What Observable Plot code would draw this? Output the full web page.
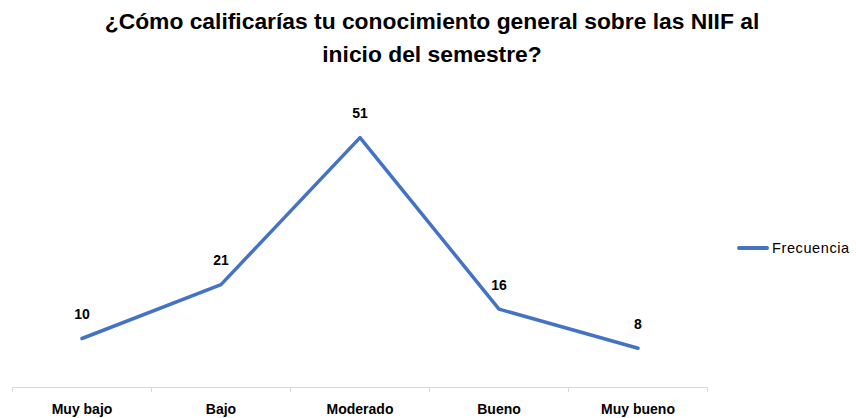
<!DOCTYPE html>
<html><head><meta charset="utf-8">
<script src="https://cdn.jsdelivr.net/npm/d3@7"></script>
<script src="https://cdn.jsdelivr.net/npm/@observablehq/plot@0.6"></script>
<style>
body{margin:0;background:#fff;width:856px;height:418px;overflow:hidden;position:relative;font-family:"Liberation Sans",Arial,sans-serif;}
#title{height:80px;box-sizing:border-box;padding-top:5px;text-align:center;font-weight:bold;font-size:21px;line-height:33px;color:#000;padding-left:8px;}
#legend{position:absolute;left:737px;top:240px;display:flex;align-items:center;font-size:14.5px;letter-spacing:0.6px;color:#000;}
#legend span.sw{display:inline-block;width:32px;height:3.5px;background:#4472C4;margin-right:3px;border-radius:2px;}
</style></head><body>
<div id="title"><span id="t1">¿Cómo calificarías tu conocimiento general sobre las NIIF al</span><br>inicio del semestre?</div>
<div id="chart"></div>
<div id="legend"><span class="sw"></span><span>Frecuencia</span></div>
<script>
const categories = ["Muy bajo", "Bajo", "Moderado", "Bueno", "Muy bueno"];
const frecuencia = [10, 21, 51, 16, 8];
const seriesName = "Frecuencia";

// fit title line width to the reference (~655px)
(function(){
  const t = document.getElementById("title");
  const w = document.getElementById("t1").getBoundingClientRect().width;
  if (w > 0) t.style.fontSize = (21 * 655 / w).toFixed(2) + "px";
})();

const data = categories.map((c, i) => ({i, categoria: c, valor: frecuencia[i]}));
const bounds = d3.range(categories.length + 1).map(k => k - 0.5);
const font = '"Liberation Sans",Arial,sans-serif';

const plot = Plot.plot({
  width: 856,
  height: 338,
  marginLeft: 12,
  marginRight: 149,
  marginTop: 13,
  marginBottom: 31,
  style: {fontFamily: font, background: "white", overflow: "visible"},
  x: {domain: [-0.5, categories.length - 0.5], axis: null},
  y: {domain: [0, 60], axis: null},
  marks: [
    Plot.ruleY([0], {stroke: "#d9d9d9", strokeWidth: 1}),
    Plot.ruleX(bounds, {y1: 0, y2: 0, insetBottom: -5, stroke: "#d9d9d9", strokeWidth: 1}),
    Plot.line(data, {x: "i", y: "valor", stroke: "#4472C4", strokeWidth: 3.5, strokeLinejoin: "round", strokeLinecap: "round"}),
    Plot.text(data, {x: "i", y: "valor", text: d => String(d.valor), dy: -24, fontWeight: "bold", fontSize: 14, fill: "#000"}),
    Plot.text(data, {x: "i", y: 0, text: "categoria", dy: 22, fontWeight: "bold", fontSize: 14, fill: "#000", letterSpacing: "0.4px"})
  ]
});
document.getElementById("chart").appendChild(plot);
</script>
</body></html>
